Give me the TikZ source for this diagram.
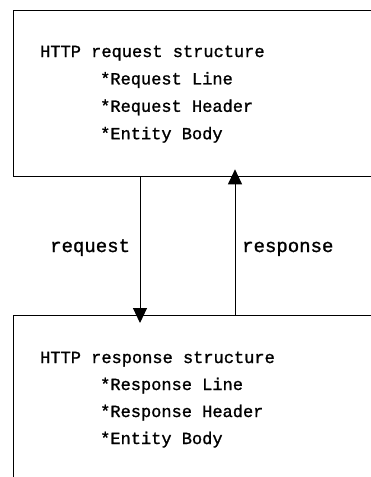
\documentclass[tikz,border=0pt]{standalone}
\usepackage{fontspec}
\newfontfamily\heavymono[FakeBold=1.2]{Liberation Mono}
\usetikzlibrary{arrows.meta,positioning,calc}
\begin{document}
\begin{tikzpicture}[x=1pt,y=-1pt,>={Triangle[length=15pt,width=14pt]},
	box/.style={draw, rectangle, line width=1.3pt, minimum width=380pt, anchor=north west, inner sep=0pt},
	line/.style={font=\heavymono\fontsize{17}{20}\selectfont, anchor=base west, inner sep=0pt},
	label/.style={font=\heavymono\fontsize{19}{22}\selectfont, anchor=base west, inner sep=0pt},
	link/.style={->, line width=1pt}]
	\useasboundingbox (0,0) rectangle (371,477);
	\clip (0,0) rectangle (371,477);
	\node[box, minimum height=166pt] (reqbox) at (13,10) {};
	\node[box, minimum height=180pt] (respbox) at (13,315) {};
	% box texts
	\node[line] (reqtitle) at (40,57) {HTTP request structure};
	\foreach \t [count=\i] in {Request Line, Request Header, Entity Body}
		\node[line] (req\i) at (100,57+27.4*\i) {*\t};
	\node[line] (resptitle) at (40,363) {HTTP response structure};
	\foreach \t [count=\i] in {Response Line, Response Header, Entity Body}
		\node[line] (resp\i) at (100,363+27*\i) {*\t};
	% messages
	\draw[link] ($(reqbox.south west)+(127,0)$) -- ($(respbox.north west)+(127,8)$);
	\draw[link] ($(respbox.north west)+(222,0)$) -- ($(reqbox.south west)+(222,-8)$);
	\node[label] (reqlabel) at (50,252) {request};
	\node[label] (resplabel) at (242,252) {response};
\end{tikzpicture}
\end{document}
